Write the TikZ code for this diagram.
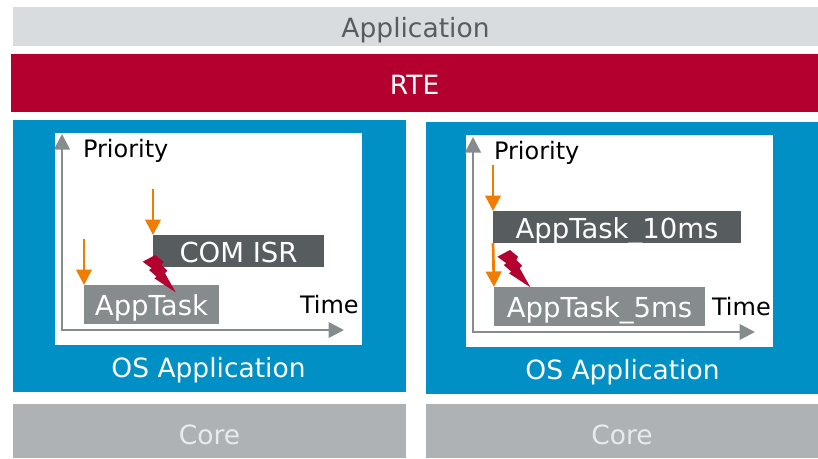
\documentclass[tikz,border=0pt]{standalone}
\usepackage{fontspec}
\setmainfont{DejaVu Sans}
\usetikzlibrary{arrows.meta,positioning}
\definecolor{barlight}{HTML}{D9DCDE}
\definecolor{bargray}{HTML}{AEB2B5}
\definecolor{corefont}{HTML}{E8EAEB}
\definecolor{taskdark}{HTML}{575C5F}
\definecolor{taskgray}{HTML}{868B8E}
\definecolor{rtered}{HTML}{B3002F}
\definecolor{osblue}{HTML}{0090C5}
\definecolor{markorange}{HTML}{F07D00}
\newcommand{\bartext}{\fontsize{26.5}{30}\selectfont}
\newcommand{\tasktext}{\fontsize{27.5}{30}\selectfont}
\newcommand{\smalltext}{\fontsize{24}{28}\selectfont}

\begin{document}
\begin{tikzpicture}[
		x=1pt,
		y=-1pt,
		node distance=8pt,
		>={Triangle[length=15.5pt,width=15.5pt]},
		every node/.style={
			outer sep=0pt
		},
		bar/.style={
			rectangle,
			inner sep=0pt,
			minimum width=393pt,
			text height=22pt,
			text depth=0pt,
			font=\bartext
		},
		task/.style={
			rectangle,
			inner sep=0pt,
			text=white,
			text height=22pt,
			text depth=0pt,
			font=\tasktext
		},
		plotbox/.style={
			rectangle,
			inner sep=0pt,
			fill=white,
			minimum width=307pt,
			minimum height=212pt
		},
		axislabel/.style={
			inner sep=0pt,
			text height=18pt,
			text depth=0pt,
			font=\smalltext
		},
		osname/.style={
			inner sep=0pt,
			text=white,
			text height=18pt,
			text depth=0pt,
			font=\bartext
		},
		axisline/.style={
			draw=taskgray,
			line width=2.6pt,
			<->
		},
		arrival/.style={
			draw=markorange,
			line width=2.7pt,
			->
		},
		bolt/.pic={
			\fill [rtered] (0,0) -- (-12.6,6.7) -- (-3.6,13.3) -- (-6.3,15) -- (1.4,21.7) -- (-1,23.3)
				-- (20.4,37.3) -- (9.7,18.3) -- (12,15.7) -- (6.4,10) -- (8,6.7) -- cycle;
		}
		]
		\useasboundingbox (0,0) rectangle (818,458);
		
		% We start by placing the bars
		
		\node [bar, fill=barlight, text=taskdark, minimum width=805pt, minimum height=39pt] (application) at (415.5,26.5) {Application};
		
		\node [bar, fill=rtered, text=white, minimum width=807pt, minimum height=58pt, below=8pt of application, xshift=-1pt] (rte) {RTE};
		
		\node [bar, fill=osblue, minimum height=272pt, below right=8pt and 2pt of rte.south west] (osleft) {};
		\node [bar, fill=osblue, minimum width=392pt, minimum height=272pt, right=20pt of osleft, yshift=-2pt] (osright) {};
		
		\node [bar, fill=bargray, text=corefont, text height=26pt, minimum height=54pt, below=12pt of osleft] (coreleft) {Core};
		\node [bar, fill=bargray, text=corefont, text height=26pt, minimum width=392pt, minimum height=54pt, right=20pt of coreleft] (coreright) {Core};
		
		% left plot
		\node [plotbox, below right=13pt and 42pt of osleft.north west] (plotleft) {};
		\node [osname, below=14pt of plotleft] (osnameleft) {OS Application};
		\node [axislabel, below right=6.5pt and 28pt of plotleft.north west] (priorityleft) {Priority};
		\node [axislabel, below right=162.3pt and 245pt of plotleft.north west] (timeleft) {Time};
		
		\node [task, fill=taskdark, minimum width=171pt, minimum height=32pt, below right=102pt and 98pt of plotleft.north west] (comisr) {COM ISR};
		\node [task, fill=taskgray, minimum width=135pt, minimum height=39pt, below right=152pt and 29pt of plotleft.north west] (apptask) {AppTask};
		
		\coordinate [below right=1pt and 7pt of plotleft.north west] (topleft);
		\coordinate [below right=197pt and 289pt of plotleft.north west] (endleft);
		\coordinate [above=46pt of comisr.north west] (startcomisr);
		\coordinate [above=46pt of apptask.north west] (startapptask);
		
		\draw [axisline] (topleft) |- (endleft);
		\draw [arrival] (startcomisr) -- (comisr.north west);
		\draw [arrival] (startapptask) -- (apptask.north west);
		\pic at ([xshift=2.3pt,yshift=12pt]comisr.south west) {bolt};
		
		% right plot
		\node [plotbox, below right=13pt and 40pt of osright.north west] (plotright) {};
		\node [osname, below=14pt of plotright, xshift=3pt] (osnameright) {OS Application};
		\node [axislabel, below right=6.5pt and 28pt of plotright.north west] (priorityright) {Priority};
		\node [axislabel, below right=162.5pt and 246pt of plotright.north west] (timeright) {Time};
		
		\node [task, fill=taskdark, minimum width=248pt, minimum height=32pt, below right=76pt and 27pt of plotright.north west] (appten) {AppTask\_10ms};
		\node [task, fill=taskgray, minimum width=211pt, minimum height=39pt, below right=152pt and 28pt of plotright.north west] (appfive) {AppTask\_5ms};
		
		\coordinate [below right=2pt and 7pt of plotright.north west] (topright);
		\coordinate [below right=197pt and 289pt of plotright.north west] (endright);
		\coordinate [above=46pt of appten.north west] (startappten);
		
		\draw [axisline] (topright) |- (endright);
		\draw [arrival] (startappten) -- (appten.north west);
		\draw [arrival] (appten.south west) -- (appfive.north west);
		\pic at ([xshift=17pt,yshift=-7pt]appten.south west) {bolt};
		
		\end{tikzpicture}
\end{document}
